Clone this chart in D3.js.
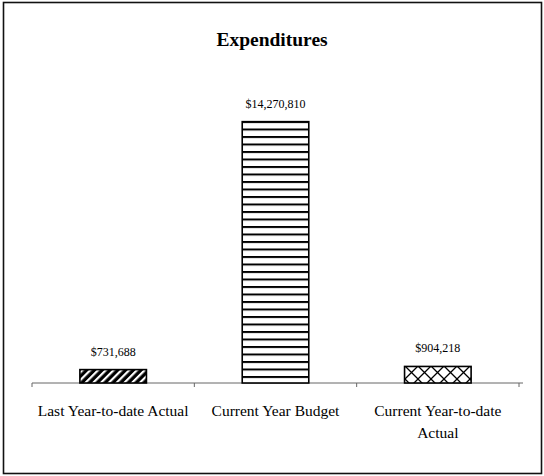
<!DOCTYPE html>
<html>
<head>
<meta charset="utf-8">
<script src="https://cdn.jsdelivr.net/npm/d3@7"></script>
<style>
  body { margin: 0; background: #fff; }
  text { font-family: "Liberation Serif", "Times New Roman", serif; fill: #000; }
</style>
</head>
<body>
<div id="chart"></div>
<script>
// chart values
var categories = ["Last Year-to-date Actual", "Current Year Budget", "Current Year-to-date Actual"];
var expenditures = [731688, 14270810, 904218];
var patterns = ["diag", "hlines", "cross"];

var width = 544,
    height = 476;

var svg = d3.select("#chart").append("svg")
  .attr("width", width)
  .attr("height", height);

// fill patterns
var defs = svg.append("defs");

var p1 = defs.append("pattern").attr("id", "diag")
  .attr("patternUnits", "userSpaceOnUse")
  .attr("width", 5.5).attr("height", 5.5)
  .attr("patternTransform", "rotate(45)");
p1.append("rect").attr("width", 5.5).attr("height", 5.5).attr("fill", "#000");
p1.append("rect").attr("x", 0).attr("width", 2.2).attr("height", 5.5).attr("fill", "#fff");

var p2 = defs.append("pattern").attr("id", "hlines")
  .attr("patternUnits", "userSpaceOnUse")
  .attr("width", 8).attr("height", 7.5)
  .attr("y", 1);
p2.append("rect").attr("width", 8).attr("height", 7.5).attr("fill", "#fff");
p2.append("rect").attr("y", 0).attr("width", 8).attr("height", 2).attr("fill", "#000");

var p3 = defs.append("pattern").attr("id", "cross")
  .attr("patternUnits", "userSpaceOnUse")
  .attr("width", 13).attr("height", 13)
  .attr("x", 405).attr("y", 366);
p3.append("rect").attr("width", 13).attr("height", 13).attr("fill", "#fff");
p3.append("path").attr("d", "M0,13L13,0M0,0L13,13")
  .attr("stroke", "#000").attr("stroke-width", 1.3);

// outer frame
svg.append("rect")
  .attr("x", 3.5).attr("y", 2.5)
  .attr("width", 538).attr("height", 471)
  .attr("fill", "none")
  .attr("stroke", "#111")
  .attr("stroke-width", 1.6);

svg.append("text")
  .attr("x", 272).attr("y", 46)
  .attr("text-anchor", "middle")
  .style("font-size", "19.5px")
  .style("font-weight", "bold")
  .text("Expenditures");

var x = d3.scaleBand()
  .domain(categories)
  .range([32, 519]);

var y = d3.scaleLinear()
  .domain([0, 16000000])
  .range([383, 90]);

var barW = x.bandwidth() * 0.41;
var form = d3.format(",");

// axis line and ticks
var axis = svg.append("g");
axis.append("line")
  .attr("x1", 32).attr("x2", 523)
  .attr("y1", y(0)).attr("y2", y(0))
  .attr("stroke", "#666").attr("stroke-width", 1);
axis.selectAll(".tick")
  .data(d3.range(categories.length + 1))
  .enter().append("line")
  .attr("x1", function(i) { return 32 + i * x.step(); })
  .attr("x2", function(i) { return 32 + i * x.step(); })
  .attr("y1", y(0)).attr("y2", y(0) + 4)
  .attr("stroke", "#666");

// bars
svg.selectAll(".bar")
  .data(expenditures)
  .enter().append("rect")
  .attr("class", "bar")
  .attr("x", function(d, i) { return x(categories[i]) + (x.bandwidth() - barW) / 2; })
  .attr("y", function(d) { return y(d); })
  .attr("width", barW)
  .attr("height", function(d) { return y(0) - y(d); })
  .attr("fill", function(d, i) { return "url(#" + patterns[i] + ")"; })
  .attr("stroke", "#000")
  .attr("stroke-width", 1.6);

// value labels
svg.selectAll(".val")
  .data(expenditures)
  .enter().append("text")
  .attr("class", "val")
  .attr("x", function(d, i) { return x(categories[i]) + x.bandwidth() / 2; })
  .attr("y", function(d) { return y(d) - 14; })
  .attr("text-anchor", "middle")
  .style("font-size", "12px")
  .text(function(d) { return "$" + form(d); });

// category labels, wrapped to the band
var labels = svg.selectAll(".cat")
  .data(categories)
  .enter().append("text")
  .attr("class", "cat")
  .attr("text-anchor", "middle")
  .attr("y", 416)
  .style("font-size", "15.5px");

labels.each(function(d) {
  var t = d3.select(this);
  var cx = x(d) + x.bandwidth() / 2;
  var words = d.split(" "), line = [];
  var tspan = t.append("tspan").attr("x", cx).attr("dy", 0);
  words.forEach(function(w) {
    line.push(w);
    tspan.text(line.join(" "));
    if (tspan.node().getComputedTextLength() > 160 && line.length > 1) {
      line.pop();
      tspan.text(line.join(" "));
      line = [w];
      tspan = t.append("tspan").attr("x", cx).attr("dy", 22).text(w);
    }
  });
});
</script>
</body>
</html>
